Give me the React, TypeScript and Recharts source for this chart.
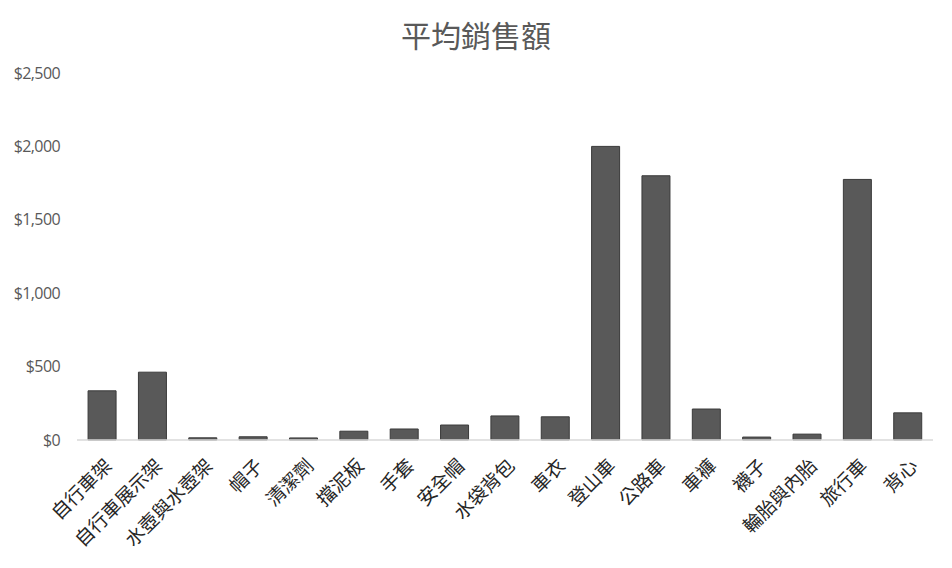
import React from "react";
import { BarChart, Bar, XAxis, YAxis } from "recharts";

const categories = [
  "自行車架", "自行車展示架", "水壺與水壺架", "帽子", "清潔劑", "擋泥板", "手套", "安全帽",
  "水袋背包", "車衣", "登山車", "公路車", "車褲", "襪子", "輪胎與內胎", "旅行車", "背心",
];
const avgSales = [335, 462, 15, 22, 14, 60, 75, 102, 164, 158, 2000, 1800, 211, 20, 40, 1775, 185];
const yTicks = [0, 500, 1000, 1500, 2000, 2500];
const title = "平均銷售額";

const data = categories.map((name, i) => ({ name, value: avgSales[i] }));

const fmt = (v: number) => "$" + v.toLocaleString("en-US");

const XTick = (props: any) => {
  const { x, y, payload } = props;
  return (
    <g transform={`translate(${x + 5},${y + 13})`}>
      <text
        transform="rotate(-45)"
        textAnchor="end"
        dominantBaseline="central"
        fontSize={19}
        fill="#262626"
        fontFamily="'Noto Sans CJK TC', sans-serif"
      >
        {payload.value}
      </text>
    </g>
  );
};

export default function App() {
  return (
    <div style={{ position: "absolute", left: 0, top: 0, width: 952, height: 568, background: "#fff" }}>
      <div
        style={{
          position: "absolute",
          left: 0,
          top: 14,
          width: 952,
          textAlign: "center",
          fontSize: 30,
          color: "#595959",
          fontFamily: "'Noto Sans CJK TC', sans-serif",
          lineHeight: "40px",
        }}
      >
        {title}
      </div>
      <BarChart
        width={952}
        height={568}
        data={data}
        margin={{ top: 73, right: 19, left: 0, bottom: 8 }}
        barCategoryGap="22%"
      >
        <XAxis
          dataKey="name"
          interval={0}
          tickLine={false}
          axisLine={{ stroke: "#d9d9d9", strokeWidth: 1.5 }}
          height={120}
          tick={<XTick />}
        />
        <YAxis
          width={77}
          domain={[0, 2500]}
          ticks={yTicks}
          tickFormatter={fmt}
          axisLine={false}
          tickLine={false}
          tickSize={0}
          tickMargin={17}
          tick={{ fontSize: 16, fill: "#595959", fontFamily: "'Open Sans', sans-serif", letterSpacing: -0.6 }}
        />
        <Bar dataKey="value" fill="#595959" stroke="#3a3a3a" strokeWidth={1} isAnimationActive={false} />
      </BarChart>
    </div>
  );
}
